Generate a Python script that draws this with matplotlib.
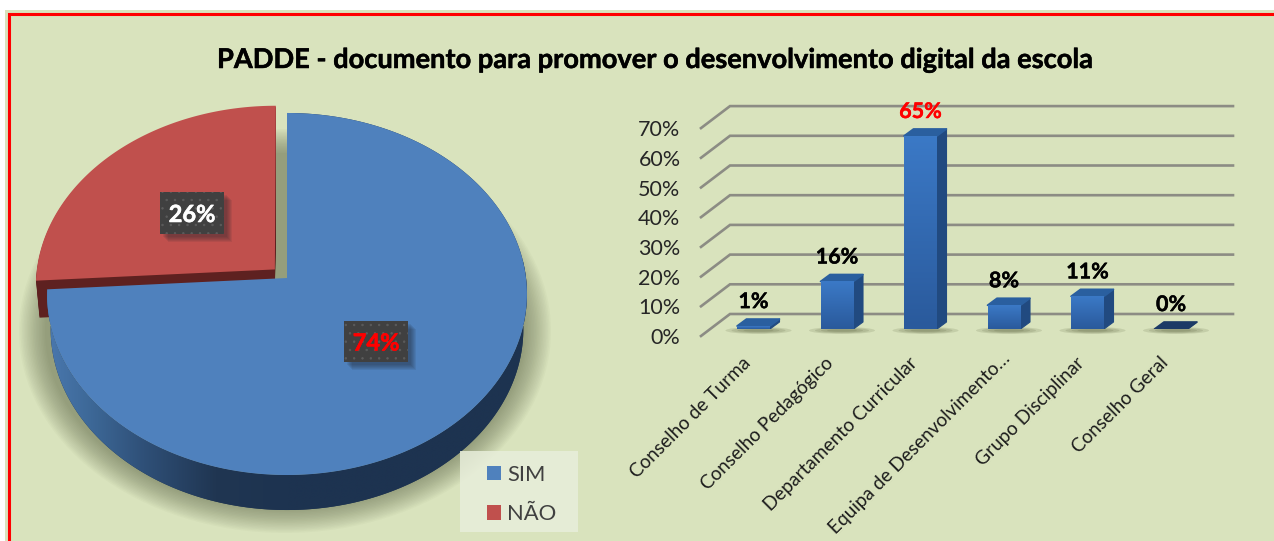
import numpy as np
import matplotlib
matplotlib.use("Agg")
import matplotlib.pyplot as plt
import matplotlib.patheffects as pe
from matplotlib.patches import Rectangle, Polygon, Ellipse, Patch
from matplotlib.colors import LinearSegmentedColormap
from matplotlib.transforms import ScaledTranslation

plt.rcParams['font.family'] = ['Lato', 'DejaVu Sans']
plt.rcParams['hatch.linewidth'] = 0.5

TITLE = "PADDE - documento para promover o desenvolvimento digital da escola"
pie_labels = ["SIM", "NÃO"]
pie_values = [74, 26]
pie_colors = ["#4f81bd", "#c0504d"]
categories = ["Conselho de Turma", "Conselho Pedagógico", "Departamento Curricular",
              "Equipa de Desenvolvimento…", "Grupo Disciplinar", "Conselho Geral"]
bar_values = [1, 16, 65, 8, 11, 0]
y_ticks = [0, 10, 20, 30, 40, 50, 60, 70]

W, H = 1274, 541
fig = plt.figure(figsize=(W / 100, H / 100), dpi=100, facecolor="white")


def heavier(text, width, color):
    text.set_path_effects([pe.withStroke(linewidth=width, foreground=color)])


# ---------- pixel-space layer with background and the pie
ax = fig.add_axes([0, 0, 1, 1])
wedges, _, autotexts = ax.pie(pie_values, colors=pie_colors, startangle=90, counterclock=False,
                              explode=(0, 0.07), autopct='%.0f%%')
ax.set_aspect('auto')
ax.set_xlim(0, W)
ax.set_ylim(H, 0)
ax.axis('off')

BG = "#d9e3bd"
ax.add_patch(Rectangle((5, 10), W - 5, H - 10, fc=BG, ec='none', zorder=0))
ax.plot([9, 9, W], [H, 14, 14], color="#ff0000", lw=2.2, zorder=0.5, solid_joinstyle='miter')

CX, CY, KX, KY, K = 287, 278, 239.0, 179.6, 0.0884
DEPTH = 35


def project(u, v):
    d = 1 + K * v
    return CX + KX * u / d, CY - KY * v / d


def wedge_outline(w):
    t = np.radians(np.linspace(w.theta1, w.theta2, 400))
    u = w.center[0] + w.r * np.cos(t)
    v = w.center[1] + w.r * np.sin(t)
    x, y = project(u, v)
    tx, ty = project(*w.center)
    return x, y, tx, ty


# soft shadow
for t in np.linspace(0, 1, 18):
    ax.add_patch(Ellipse((285, 331), 2 * (240 + 26 * t), 2 * (178 + 24 * t),
                         fc="#4c5438", ec='none', alpha=0.03, zorder=1))

blue, red = wedges
geom = {}
for w in wedges:
    geom[w] = wedge_outline(w)
    w.remove()

# red wedge, extruded
x, y, tx, ty = geom[red]
rim_x = np.r_[tx, x]
rim_y = np.r_[ty, y]
for dy in range(1, 38):
    ax.add_patch(Polygon(np.c_[tx + (rim_x - tx) * (1 - 0.0004 * dy), rim_y + dy],
                         fc="#5e2120", ec='none', zorder=2))
ax.add_patch(Polygon(np.c_[rim_x, rim_y], fc=pie_colors[1], ec='none', zorder=3))

# blue wedge, extruded with a gradient on its side
x, y, tx, ty = geom[blue]
low_x = CX + (x - CX) * 0.985
side = Polygon(np.r_[np.c_[x, y], np.c_[low_x, y + DEPTH][::-1]], fc='#1d3350', ec='none', zorder=4)
ax.add_patch(side)
side_cmap = LinearSegmentedColormap.from_list(
    "side", [(0, "#4a78ae"), (0.09, "#3d6897"), (0.2, "#2f5078"), (0.35, "#203652"),
             (0.5, "#1d3350"), (1, "#1d3350")])
im = ax.imshow(np.linspace(0, 1, 256)[None, :], extent=(47, 527, 530, 260), cmap=side_cmap,
               aspect='auto', zorder=4.1, interpolation='bilinear')
im.set_clip_path(side)
ax.set_xlim(0, W)
ax.set_ylim(H, 0)
ax.add_patch(Polygon(np.c_[np.r_[tx, x], np.r_[ty, y]], fc=pie_colors[0], ec='none', zorder=5))

# pie percent labels in their dark boxes
boxes = [((344, 321), 64, 41, "#ff0000"), ((160, 192), 64, 42, "white")]
for txt, (xy, bw, bh, col) in zip(autotexts, boxes):
    for s in range(1, 7):
        ax.add_patch(Rectangle((xy[0] + 2 + s, xy[1] + 2 + s), bw, bh, fc="#20242c", ec='none',
                               alpha=0.09, zorder=5.5))
    ax.add_patch(Rectangle(xy, bw, bh, fc="#404040", ec='none', zorder=6))
    ax.add_patch(Rectangle(xy, bw, bh, fc='none', ec="#5c5c5c", lw=0, hatch='..', zorder=6.1))
    txt.set_position((xy[0] + bw / 2, xy[1] + bh / 2 + 1.5))
    txt.set_ha('center')
    txt.set_va('center')
    txt.set_color(col)
    txt.set_fontsize(17)
    txt.set_fontweight('bold')
    txt.set_zorder(7)
    heavier(txt, 0.4, col)

title = ax.text(654.5, 60, TITLE, ha='center', va='center', fontsize=19.6, fontweight='bold',
                color='black', zorder=7)
heavier(title, 0.35, 'black')

# legend
ax.add_patch(Rectangle((460, 451), 118, 81, fc="#e8eedb", ec='none', alpha=0.85, zorder=7.5))
handles = [Patch(fc=c, ec='none') for c in pie_colors]
leg = ax.legend(handles, pie_labels, loc='lower left', bbox_to_anchor=(487, 524), bbox_transform=ax.transData,
                fontsize=15.8, labelcolor="#404040", frameon=False,
                handlelength=0.64, handleheight=0.64, handletextpad=0.28,
                labelspacing=0.88, borderpad=0, borderaxespad=0)
leg.set_zorder(8)

# ---------- bar chart layer
PX_CAT = 83.5
PX_PCT = 2.97
LEFT = 753.5 - PX_CAT / 2
axb = fig.add_axes([LEFT / W, (H - 329) / H, PX_CAT * 6 / W, PX_PCT * 70 / H])
axb.patch.set_alpha(0)
xpos = np.arange(len(categories))
for s in axb.spines.values():
    s.set_visible(False)


def to_x(px):
    return (px - 753.5) / PX_CAT


def to_v(py):
    return (329 - py) / PX_PCT


# grid: slanted wall edge plus back line
for v in y_ticks:
    y0 = 336 - PX_PCT * v
    y1 = 314 - PX_PCT * v
    axb.plot([to_x(701), to_x(730), to_x(1233)], [to_v(y0), to_v(y1), to_v(y1)],
             color="#8c8c84", lw=1.9, clip_on=False, zorder=1, solid_joinstyle='miter')

dx, dy = 9.5 / PX_CAT, 7 / PX_PCT
bw = 33 / PX_CAT
bars = axb.bar(xpos, bar_values, width=bw, color="#3069ad", zorder=4)
grad = LinearSegmentedColormap.from_list("front", ["#2a5a9c", "#3b79c6"])
for i, (b, v) in enumerate(zip(bars, bar_values)):
    x0 = b.get_x()
    x1 = x0 + b.get_width()
    for s in range(4):
        axb.add_patch(Ellipse((x0 + bw / 2 + 5 / PX_CAT, -0.5), (66 - 12 * s) / PX_CAT, (7 - 1.5 * s) / PX_PCT,
                              fc="#3c4220", ec='none', alpha=0.13, zorder=2, clip_on=False))
    top_col = "#2a5f9f" if v > 0 else "#1c3b66"
    axb.add_patch(Polygon([(x1, 0), (x1 + dx, dy), (x1 + dx, v + dy), (x1, v)],
                          fc="#214a80", ec="#214a80", lw=0.8, joinstyle='round', zorder=5))
    axb.add_patch(Polygon([(x0, v), (x1, v), (x1 + dx, v + dy), (x0 + dx, v + dy)],
                          fc=top_col, ec=top_col, lw=1.2, joinstyle='round', zorder=5.1))
    if v > 0:
        g = axb.imshow(np.linspace(0, 1, 64)[:, None], extent=(x0, x1, 0, v), origin='lower', cmap=grad,
                       aspect='auto', zorder=5.2, interpolation='bilinear')
        g.set_clip_path(b)
    lab = axb.annotate(f"{v}%", (xpos[i], v), xytext=(0, 17.6), textcoords='offset points',
                       ha='center', va='center', fontsize=15.5, fontweight='bold',
                       color="#ff0000" if v == max(bar_values) else "black", zorder=7)
    heavier(lab, 0.3, lab.get_color())

axb.set_xlim(-0.5, 5.5)
axb.set_ylim(0, 70)
axb.set_yticks(y_ticks)
axb.set_yticklabels([f"{v}%" for v in y_ticks], fontsize=15.5, color="#262626")
axb.set_xticks(xpos)
axb.set_xticklabels(categories, rotation=45, ha='right', rotation_mode='anchor', fontsize=13.7, color="#1c1c1c")
axb.tick_params(axis='both', length=0)
axb.tick_params(axis='y', pad=22.5)
axb.tick_params(axis='x', pad=18)
shift = ScaledTranslation(0, -7 / 100, fig.dpi_scale_trans)
for lab in axb.get_yticklabels():
    lab.set_transform(lab.get_transform() + shift)
for i, lab in enumerate(axb.get_xticklabels()):
    # the long truncated label sits a little further up and to the right
    ox, oy = (-3 / 100, 4 / 100) if i == 3 else (-12 / 100, 0)
    lab.set_transform(lab.get_transform() + ScaledTranslation(ox, oy, fig.dpi_scale_trans))

fig.savefig("out.png", dpi=100, facecolor="white")
